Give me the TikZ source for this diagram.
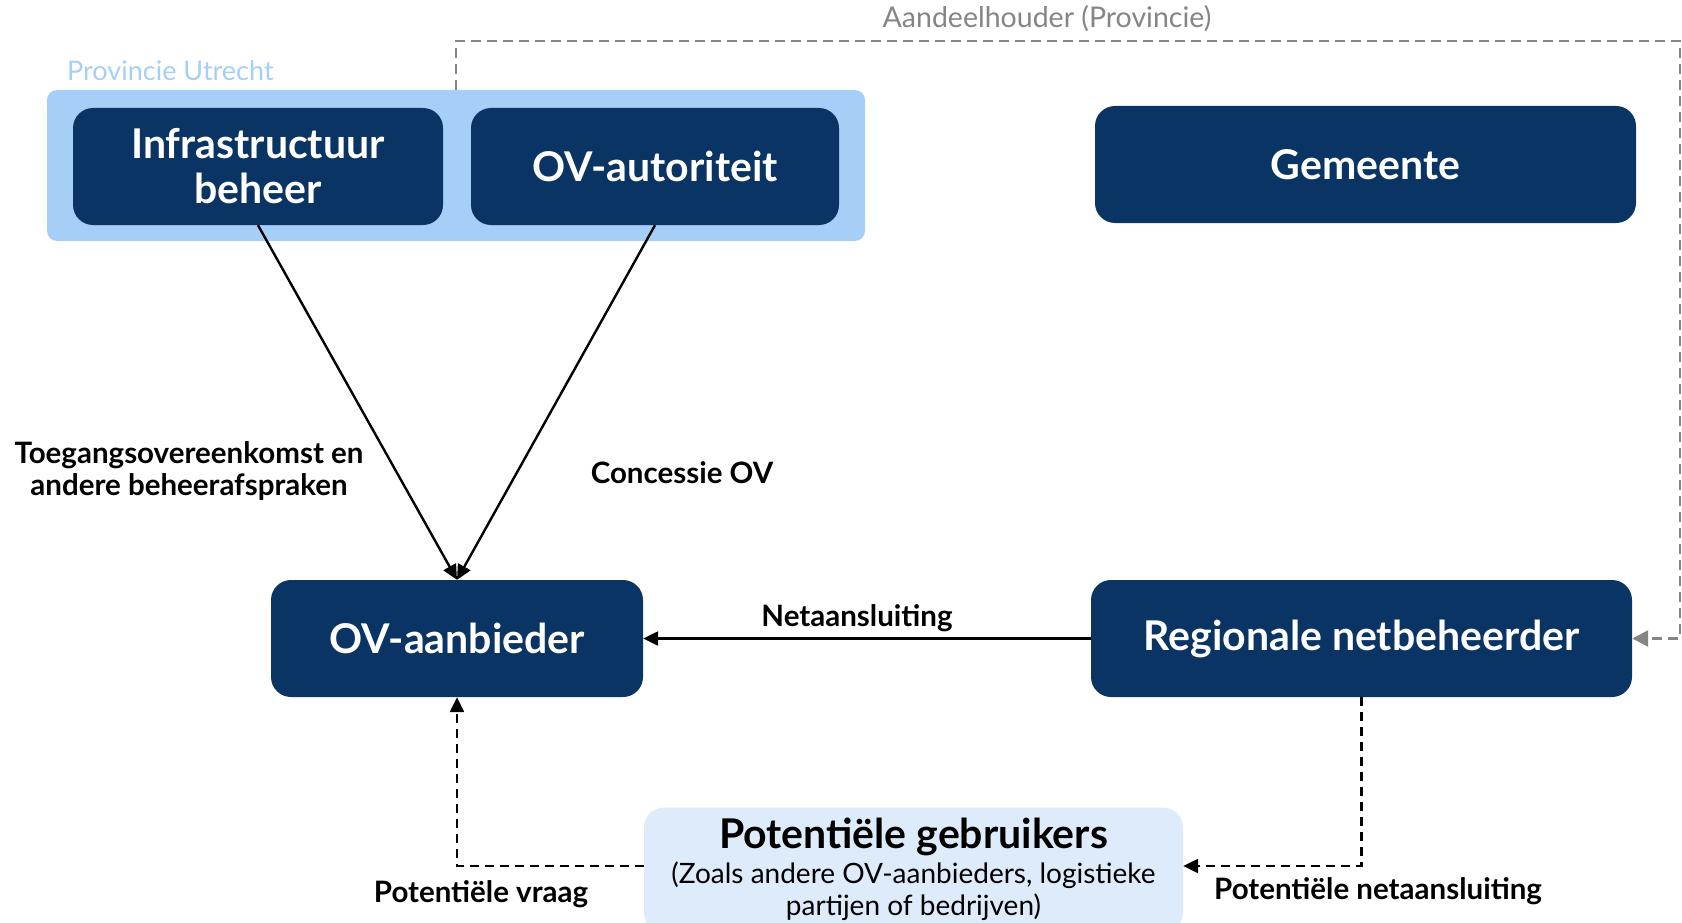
\documentclass[tikz,border=0pt]{standalone}
\usepackage{fontspec}
\setmainfont{Lato}
\usetikzlibrary{arrows.meta}
\definecolor{navy}{HTML}{0A3463}
\definecolor{provblue}{HTML}{A6CFF7}
\definecolor{paleblue}{HTML}{DDEBFB}
\definecolor{linegray}{HTML}{858585}
\tikzset{
  actor/.style={draw=none, fill=navy, rounded corners=20pt, text=white,
    font=\bfseries\fontsize{41}{45}\selectfont, align=center, inner sep=0pt},
  lbl/.style={font=\bfseries\fontsize{29.5}{32}\selectfont, align=center, inner sep=0pt},
  arr/.style={line width=2.4pt, -{Triangle[length=15pt,width=14pt]}},
  darr/.style={line width=2.4pt, dash pattern=on 9pt off 6pt, -{Triangle[length=15pt,width=14pt]}},
  garr/.style={line width=2.6pt, linegray, dash pattern=on 10pt off 6pt, -{Triangle[length=16pt,width=16pt]}},
}
\begin{document}
\begin{tikzpicture}[x=1pt,y=-1pt]
\useasboundingbox (0,0) rectangle (1682,923);

% Provincie Utrecht group
\node[fill=provblue, rounded corners=10pt, minimum width=818pt, minimum height=151pt, inner sep=0pt] (prov) at (456,165.5) {};
\node[text=provblue, font=\fontsize{27}{30}\selectfont, anchor=west, inner sep=0pt] (provlbl) at (67,71) {Provincie Utrecht};

% Actors
\node[actor, minimum width=370pt, minimum height=117pt] (infra) at (258,166.5) {Infrastructuur\\beheer};
\node[actor, minimum width=368pt, minimum height=117pt] (aut) at (655,166.5) {OV-autoriteit};
\node[actor, minimum width=541pt, minimum height=117pt] (gem) at (1365.5,164.5) {Gemeente};
\node[actor, minimum width=372pt, minimum height=117pt] (oa) at (457,638.5) {OV-aanbieder};
\node[actor, minimum width=541pt, minimum height=117pt] (reg) at (1361.5,638.5) {Regionale netbeheerder};
\node[fill=paleblue, rounded corners=20pt, minimum width=539pt, minimum height=125pt, inner sep=0pt] (pot) at (913.5,870) {};
\node[font=\bfseries\fontsize{41}{45}\selectfont, inner sep=0pt] (pottitle) at (913.5,837) {Potentiële gebruikers};
\node[font=\fontsize{28}{32}\selectfont, align=center, inner sep=0pt] (potsub) at (913.5,891) {(Zoals andere OV-aanbieders, logistieke\\partijen of bedrijven)};

% Shareholder link
\coordinate (topR) at (1680,41);
\draw[garr] (prov.north) |- (topR) |- (reg.east);
\node[text=linegray, font=\fontsize{28.5}{30}\selectfont, inner sep=0pt] (aandeel) at (1047,19) {Aandeelhouder (Provincie)};

% Agreements
\draw[arr] (infra.south) -- (oa.north);
\draw[arr] (aut.south) -- (oa.north);
\draw[arr] (reg.west) -- (oa.east);
\coordinate (potE) at (pot.east |- 0,866);
\coordinate (potW) at (pot.west |- 0,866);
\draw[darr] (reg.south) |- (potE);
\draw[darr] (potW) -| (oa.south);

% Labels
\node[lbl] (ltoeg) at (189,471) {Toegangsovereenkomst en\\andere beheerafspraken};
\node[lbl] (lcon) at (682,473) {Concessie OV};
\node[lbl] (lnet) at (857,618) {Netaansluiting};
\node[lbl] (lvraag) at (481,894) {Potentiële vraag};
\node[lbl] (lpnet) at (1378,891) {Potentiële netaansluiting};
\end{tikzpicture}
\end{document}
